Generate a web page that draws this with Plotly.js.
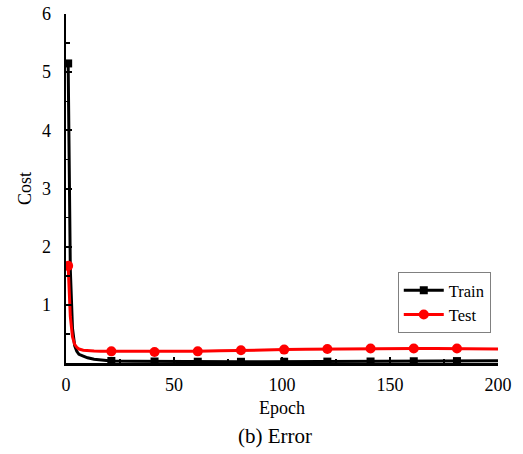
<!DOCTYPE html>
<html>
<head>
<meta charset="utf-8">
<script src="https://cdn.plot.ly/plotly-3.0.1.min.js"></script>
<style>html,body{margin:0;padding:0;background:#fff;}#chart{width:523px;height:454px;}</style>
</head>
<body>
<div id="chart"></div>
<script>
var trainEpochs = [1, 2, 3, 4, 5, 6, 8, 10, 13, 16, 21, 31, 41, 51, 61, 71, 81, 91, 101, 111, 121, 131, 141, 151, 161, 171, 181, 191, 200];
var trainCost   = [5.15, 1.6, 0.6, 0.3, 0.2, 0.15, 0.12, 0.09, 0.065, 0.05, 0.035, 0.03, 0.026, 0.024, 0.022, 0.021, 0.021, 0.021, 0.022, 0.023, 0.024, 0.025, 0.026, 0.028, 0.03, 0.031, 0.033, 0.036, 0.04];
var testEpochs  = [1, 2, 3, 4, 5, 6, 8, 10, 13, 16, 21, 31, 41, 51, 61, 71, 81, 91, 101, 111, 121, 131, 141, 151, 161, 171, 181, 191, 200];
var testCost    = [1.67, 0.8, 0.45, 0.32, 0.27, 0.24, 0.22, 0.21, 0.205, 0.2, 0.2, 0.195, 0.19, 0.195, 0.2, 0.21, 0.22, 0.225, 0.23, 0.235, 0.24, 0.245, 0.25, 0.25, 0.25, 0.25, 0.25, 0.245, 0.24];
var markerEpochs = [1, 21, 41, 61, 81, 101, 121, 141, 161, 181];
var yTicks = [1, 2, 3, 4, 5, 6];
var xTicks = [0, 50, 100, 150, 200];

function markerColors(epochs, color) {
  return epochs.map(function (e) { return markerEpochs.indexOf(e) >= 0 ? color : 'rgba(0,0,0,0)'; });
}

var font = 'Liberation Serif, Times New Roman, serif';

var data = [
  {
    x: trainEpochs, y: trainCost, name: 'Train', mode: 'lines+markers',
    line: {color: '#000000', width: 3},
    marker: {symbol: 'square', size: 8, color: markerColors(trainEpochs, '#000000'), line: {width: 0}}
  },
  {
    x: testEpochs, y: testCost, name: 'Test', mode: 'lines+markers',
    line: {color: '#ff0000', width: 3},
    marker: {symbol: 'circle', size: 10, color: markerColors(testEpochs, '#ff0000'), line: {width: 0}}
  }
];

var layout = {
  width: 523, height: 454,
  margin: {l: 66, r: 25, t: 14, b: 91},
  paper_bgcolor: '#ffffff', plot_bgcolor: '#ffffff',
  font: {family: font, size: 18, color: '#000000'},
  showlegend: true,
  legend: {
    x: 0.768, y: 0.261, xanchor: 'left', yanchor: 'top',
    bordercolor: '#808080', borderwidth: 1, bgcolor: '#ffffff',
    font: {family: font, size: 16.5, color: '#000000'},
    itemwidth: 40, tracegroupgap: 0
  },
  xaxis: {
    range: [0, 200], tickvals: xTicks, ticktext: xTicks.map(String),
    ticks: 'inside', ticklen: 6, tickwidth: 2, tickcolor: '#000000',
    minor: {tickvals: [25, 75, 125, 175], ticks: 'inside', ticklen: 4, tickwidth: 1.5, tickcolor: '#000000'},
    showline: true, linecolor: '#000000', linewidth: 2.5, mirror: false,
    showgrid: false, zeroline: false, ticklabelstandoff: 4,
    tickfont: {family: font, size: 18, color: '#000000'},
    title: {text: 'Epoch', font: {family: font, size: 18, color: '#000000'}, standoff: 8}
  },
  yaxis: {
    range: [0, 6], tickvals: yTicks, ticktext: yTicks.map(String),
    ticks: 'inside', ticklen: 6, tickwidth: 2, tickcolor: '#000000',
    minor: {tickvals: [0.5, 1.5, 2.5, 3.5, 4.5, 5.5], ticks: 'inside', ticklen: 4, tickwidth: 1.5, tickcolor: '#000000'},
    showline: true, linecolor: '#000000', linewidth: 2.5, mirror: false,
    showgrid: false, zeroline: false, ticklabelstandoff: 9,
    tickfont: {family: font, size: 18, color: '#000000'},
    title: {text: 'Cost', font: {family: font, size: 18, color: '#000000'}, standoff: 6}
  },
  annotations: [
    {text: '(b) Error', xref: 'paper', yref: 'paper', x: 0.483, y: -0.21, xanchor: 'center', yanchor: 'middle',
     showarrow: false, font: {family: font, size: 21, color: '#000000'}}
  ]
};

Plotly.newPlot('chart', data, layout, {displayModeBar: false, staticPlot: true});
</script>
</body>
</html>
